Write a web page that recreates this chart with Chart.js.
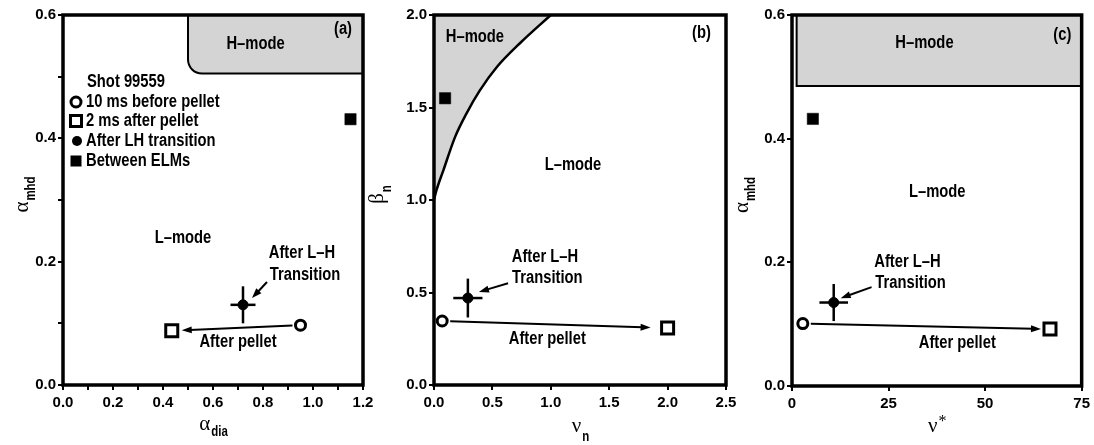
<!DOCTYPE html>
<html>
<head>
<meta charset="utf-8">
<script src="https://cdn.jsdelivr.net/npm/chart.js@4.4.1/dist/chart.umd.min.js"></script>
<style>
  body { margin: 0; background: #fff; width: 1094px; height: 445px; position: relative; overflow: hidden; }
  canvas { position: absolute; top: 0; }
</style>
</head>
<body>
<canvas id="pa" width="385" height="445" style="left:0px"></canvas>
<canvas id="pb" width="380" height="445" style="left:368px"></canvas>
<canvas id="pc" width="360" height="445" style="left:734px"></canvas>
<script>
// one entry per panel: (a) alpha_dia / alpha_mhd, (b) nu_n / beta_n, (c) nu* / alpha_mhd
const beforePellet = [[0.95, 0.097], [0.07, 0.346], [2.8, 0.101]];
const afterPellet  = [[0.435, 0.088], [2.0, 0.308], [66.8, 0.092]];
const afterLH      = [[0.72, 0.13], [0.29, 0.47], [10.8, 0.135]];
const afterLHErr   = [[0.05, 0.03], [0.125, 0.105], [3.7, 0.03]];
const betweenELMs  = [[1.15, 0.431], [0.095, 1.55], [5.4, 0.432]];

// H-mode boundary in (b)
const boundaryNu   = [0, 0.02, 0.08, 0.18, 0.28, 0.39, 0.54, 0.74, 1.0];
const boundaryBeta = [1.0, 1.05, 1.16, 1.34, 1.47, 1.59, 1.72, 1.85, 2.0];
// H-mode boxes in (a) and (c): [xMin, yMin]
const hModeBoxA = [0.5, 0.505];
const hModeBoxC = [1.2, 0.485];

// axis ranges [min, max, step]
const xRanges = [[0, 1.2, 0.1], [0, 2.5, 0.5], [0, 75, 25]];
const yRanges = [[0, 0.6, 0.1], [0, 2.0, 0.5], [0, 0.6, 0.2]];

const legendLabels = ['Shot 99559', '10 ms before pellet', '2 ms after pellet', 'After LH transition', 'Between ELMs'];

const notesA = [['H–mode', 0.77, 0.553], ['L–mode', 0.48, 0.238], ['After L–H', 0.956, 0.214], ['Transition', 0.968, 0.178], ['After pellet', 0.70, 0.07], ['(a)', 1.12, 0.577]];
const notesB = [['H–mode', 0.35, 1.88], ['L–mode', 1.19, 1.19], ['After L–H', 0.95, 0.69], ['Transition', 0.97, 0.58], ['After pellet', 0.97, 0.25], ['(b)', 2.29, 1.9]];
const notesC = [['H–mode', 34.3, 0.554], ['L–mode', 37.6, 0.313], ['After L–H', 29.9, 0.2], ['Transition', 30.7, 0.166], ['After pellet', 42.8, 0.07], ['(c)', 70, 0.568]];

// arrow from "Transition" label to the after-LH point: [x0, y0, x1, y1]
const lhArrows = [[0.816, 0.167, 0.756, 0.141], [0.634, 0.55, 0.385, 0.503], [20.6, 0.16, 12.6, 0.142]];

const FONT = "'Liberation Sans', Arial, sans-serif";
const SERIF = "'Liberation Serif', 'DejaVu Serif', serif";
const SQUEEZE = 0.82; // the original uses a narrow bold face

function pt(a) { return [{ x: a[0], y: a[1] }]; }

// narrow text: squeeze horizontally around the anchor
function narrowText(ctx, s, x, y) {
  ctx.save();
  ctx.translate(x, y);
  ctx.scale(SQUEEZE, 1);
  ctx.fillText(s, 0, 0);
  ctx.restore();
}

function arrowHead(ctx, x0, y0, x1, y1) {
  const a = Math.atan2(y1 - y0, x1 - x0);
  ctx.beginPath();
  ctx.moveTo(x1, y1);
  ctx.lineTo(x1 - 10 * Math.cos(a) + 3.5 * Math.sin(a), y1 - 10 * Math.sin(a) - 3.5 * Math.cos(a));
  ctx.lineTo(x1 - 10 * Math.cos(a) - 3.5 * Math.sin(a), y1 - 10 * Math.sin(a) + 3.5 * Math.cos(a));
  ctx.closePath();
  ctx.fill();
}

function line(ctx, x0, y0, x1, y1, w) {
  ctx.lineWidth = w;
  ctx.beginPath(); ctx.moveTo(x0, y0); ctx.lineTo(x1, y1); ctx.stroke();
}

function subText(ctx, main, sub, x, y, subDrop, vertical) {
  ctx.save();
  ctx.translate(x, y);
  if (vertical) ctx.rotate(-Math.PI / 2);
  const subFont = sub === '*' ? '16px ' + SERIF : 'bold 14px ' + FONT;
  const subScale = sub === '*' ? 1 : SQUEEZE;
  ctx.font = '21px ' + SERIF;
  const w1 = ctx.measureText(main).width;
  ctx.font = subFont;
  const w2 = ctx.measureText(sub).width * subScale;
  const start = -(w1 + w2) / 2;
  ctx.fillStyle = '#000';
  ctx.textAlign = 'left';
  ctx.textBaseline = 'alphabetic';
  ctx.font = '21px ' + SERIF;
  ctx.fillText(main, start, 0);
  ctx.font = subFont;
  ctx.translate(start + w1 + 1, subDrop);
  ctx.scale(subScale, 1);
  ctx.fillText(sub, 0, 0);
  ctx.restore();
}

function makePanel(id, i, opts) {
  const deco = {
    id: 'deco' + i,
    beforeDatasetsDraw(chart) {
      const ctx = chart.ctx, xs = chart.scales.x, ys = chart.scales.y, ca = chart.chartArea;
      ctx.save();
      ctx.fillStyle = '#d4d4d4';
      ctx.strokeStyle = '#000';
      ctx.lineWidth = 2;
      if (opts.box) {
        const x0 = xs.getPixelForValue(opts.box[0]);
        const y0 = ys.getPixelForValue(opts.box[1]);
        const r = opts.round;
        const edge = () => {
          ctx.moveTo(x0, ca.top);
          ctx.lineTo(x0, y0 - r);
          ctx.arcTo(x0, y0, x0 + r, y0, r);
          ctx.lineTo(ca.right, y0);
        };
        ctx.beginPath(); edge(); ctx.lineTo(ca.right, ca.top); ctx.closePath(); ctx.fill();
        ctx.beginPath(); edge(); ctx.stroke();
      }
      ctx.restore();
    },
    afterDatasetsDraw(chart) {
      const ctx = chart.ctx, xs = chart.scales.x, ys = chart.scales.y, ca = chart.chartArea;
      const X = v => xs.getPixelForValue(v), Y = v => ys.getPixelForValue(v);
      ctx.save();
      ctx.strokeStyle = '#000';
      ctx.fillStyle = '#000';
      ctx.lineCap = 'butt';

      // error bars on the after-LH point
      const p = afterLH[i], e = afterLHErr[i];
      line(ctx, X(p[0] - e[0]), Y(p[1]), X(p[0] + e[0]), Y(p[1]), 2.5);
      line(ctx, X(p[0]), Y(p[1] - e[1]), X(p[0]), Y(p[1] + e[1]), 2.5);

      // pellet arrow: before -> after
      const bx = X(beforePellet[i][0]), by = Y(beforePellet[i][1]);
      const ax = X(afterPellet[i][0]), ay = Y(afterPellet[i][1]);
      const d = Math.hypot(ax - bx, ay - by);
      const ux = (ax - bx) / d, uy = (ay - by) / d;
      const sx = bx + ux * 8, sy = by + uy * 8;
      const tx = ax - ux * opts.tipGap, ty = ay - uy * opts.tipGap;
      line(ctx, sx, sy, tx - ux * 8, ty - uy * 8, 2);
      arrowHead(ctx, sx, sy, tx, ty);

      // arrow to the after-LH point
      const la = lhArrows[i];
      const lx0 = X(la[0]), ly0 = Y(la[1]), lx1 = X(la[2]), ly1 = Y(la[3]);
      const dl = Math.hypot(lx1 - lx0, ly1 - ly0);
      line(ctx, lx0, ly0, lx1 - (lx1 - lx0) / dl * 8, ly1 - (ly1 - ly0) / dl * 8, 2);
      arrowHead(ctx, lx0, ly0, lx1, ly1);

      // text notes
      ctx.font = 'bold 18px ' + FONT;
      ctx.textAlign = 'center';
      ctx.textBaseline = 'middle';
      opts.notes.forEach(n => narrowText(ctx, n[0], X(n[1]), Y(n[2])));

      // legend (panel a only)
      if (opts.legend) {
        const mx = ca.left + 13, tx0 = ca.left + 23;
        const rows = [67, 87, 106, 126, 146].map(v => ca.top + v);
        ctx.textAlign = 'left';
        narrowText(ctx, legendLabels[0], ca.left + 24, rows[0]);
        for (let k = 1; k < 5; k++) narrowText(ctx, legendLabels[k], tx0, rows[k]);
        ctx.lineWidth = 3;
        ctx.fillStyle = '#fff';
        ctx.beginPath(); ctx.arc(mx, rows[1], 5, 0, Math.PI * 2); ctx.fill(); ctx.stroke();
        ctx.fillRect(mx - 5.5, rows[2] - 5.5, 11, 11);
        ctx.strokeRect(mx - 5.5, rows[2] - 5.5, 11, 11);
        ctx.fillStyle = '#000';
        ctx.beginPath(); ctx.arc(mx + 1, rows[3], 5, 0, Math.PI * 2); ctx.fill();
        ctx.fillRect(mx - 5.5, rows[4] - 5.5, 11, 11);
      }

      // frame
      ctx.lineWidth = 3.5;
      ctx.strokeRect(ca.left, ca.top, ca.right - ca.left, ca.bottom - ca.top);

      // axis titles
      const xt = opts.xTitle, yt = opts.yTitle;
      subText(ctx, xt[0], xt[1], (ca.left + ca.right) / 2, ca.bottom + xt[2], xt[3], false);
      subText(ctx, yt[0], yt[1], ca.left - yt[2], (ca.top + ca.bottom) / 2 - 5, yt[3], true);
      ctx.restore();
    }
  };

  const datasets = [
    { data: pt(beforePellet[i]), pointStyle: 'circle', pointRadius: 5, pointBorderWidth: 3, pointBackgroundColor: '#fff', pointBorderColor: '#000' },
    { data: pt(afterPellet[i]), pointStyle: 'rect', pointRadius: 8.5, pointBorderWidth: 3, pointBackgroundColor: '#fff', pointBorderColor: '#000' },
    { data: pt(afterLH[i]), pointStyle: 'circle', pointRadius: 5, pointBorderWidth: 1, pointBackgroundColor: '#000', pointBorderColor: '#000' },
    { data: pt(betweenELMs[i]), pointStyle: 'rect', pointRadius: 8, pointBorderWidth: 0.5, pointBackgroundColor: '#000', pointBorderColor: '#000' }
  ];
  if (opts.boundary) {
    datasets.push({
      type: 'line',
      data: boundaryNu.map((v, k) => ({ x: v, y: boundaryBeta[k] })),
      borderColor: '#000', borderWidth: 2.5, pointRadius: 0,
      cubicInterpolationMode: 'monotone',
      fill: 'end', backgroundColor: '#d4d4d4'
    });
  }

  const xr = xRanges[i], yr = yRanges[i];
  const gridOpts = { drawOnChartArea: false, drawTicks: true, tickLength: 5, lineWidth: 2, color: '#000' };
  const tickFont = { family: FONT, size: 15, weight: 'bold' };

  return new Chart(document.getElementById(id), {
    type: 'scatter',
    data: { datasets },
    options: {
      responsive: false,
      animation: false,
      events: [],
      devicePixelRatio: 1,
      layout: { padding: { top: 15, right: opts.padRight, left: 0, bottom: 0 } },
      plugins: { legend: { display: false }, tooltip: { enabled: false } },
      scales: {
        x: {
          type: 'linear', min: xr[0], max: xr[1],
          border: { display: false }, grid: gridOpts,
          ticks: { stepSize: xr[2], color: '#000', font: tickFont, padding: 4, maxRotation: 0, autoSkip: false, callback: opts.xLabel },
          afterFit: s => { s.height = opts.xHeight; }
        },
        y: {
          type: 'linear', min: yr[0], max: yr[1],
          border: { display: false }, grid: gridOpts,
          ticks: { stepSize: yr[2], color: '#000', font: tickFont, padding: 2, autoSkip: false, callback: opts.yLabel },
          afterFit: s => { s.width = opts.yWidth; }
        }
      }
    },
    plugins: [deco]
  });
}

const evenTenth = v => (Math.round(v * 10) % 2 === 0 ? v.toFixed(1) : '');
const oneDec = v => v.toFixed(1);
const whole = v => String(Math.round(v));

window.addEventListener('load', () => {
  makePanel('pa', 0, {
    box: hModeBoxA, round: 14, tipGap: 10, notes: notesA, legend: true,
    xLabel: evenTenth, yLabel: evenTenth, yWidth: 63, xHeight: 60, padRight: 22,
    xTitle: ['α', 'dia', 45, 6], yTitle: ['α', 'mhd', 35, 7]
  });
  makePanel('pb', 1, {
    boundary: true, tipGap: 17, notes: notesB,
    xLabel: oneDec, yLabel: oneDec, yWidth: 66, xHeight: 60, padRight: 22,
    xTitle: ['ν', 'n', 47, 9], yTitle: ['β', 'n', 51, 8]
  });
  makePanel('pc', 2, {
    box: hModeBoxC, round: 0, tipGap: 9, notes: notesC,
    xLabel: whole, yLabel: oneDec, yWidth: 58, xHeight: 59, padRight: 11,
    xTitle: ['ν', '*', 46, -6], yTitle: ['α', 'mhd', 44, 7]
  });
});
</script>
</body>
</html>
